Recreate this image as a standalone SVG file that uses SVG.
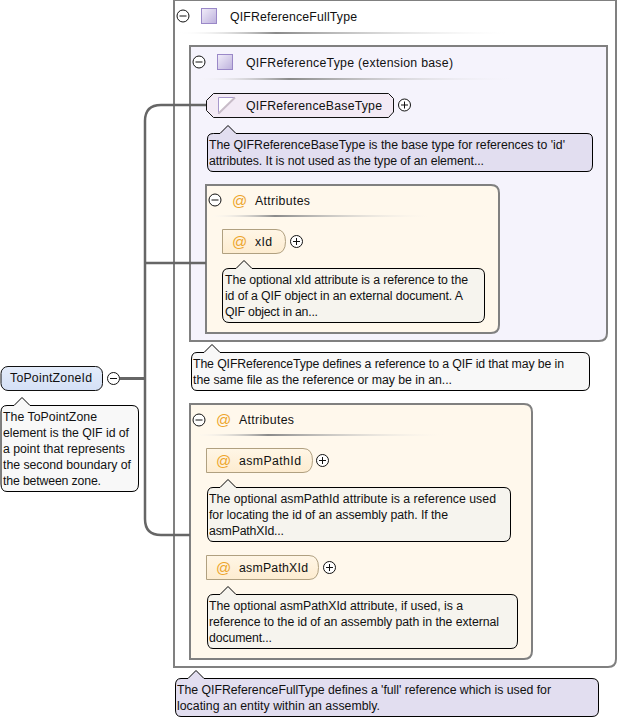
<svg xmlns="http://www.w3.org/2000/svg" width="618" height="720" viewBox="0 0 618 720">
<style>
text{font-family:"Liberation Sans",Arial,sans-serif;font-size:12.3px;fill:#111}
.box{stroke:#808080;stroke-width:2}
.note{stroke:#000;stroke-width:1}
.nl{fill:#e2def0}.ng{fill:#f6f4ee}.nw{fill:#f8f8f8}
.at{font-size:15px;fill:#eda52c}
.btn{fill:#fff;stroke:#111;stroke-width:1}
.pm{stroke:#111;stroke-width:1;fill:none}
.attr{fill:url(#attrFill);stroke:#b0a080;stroke-width:1}
.con{fill:none;stroke:#666;stroke-width:2.500}
.stub{stroke-width:3}
</style>
<defs>
<linearGradient id="sq" x1="0" y1="0" x2="1" y2="1"><stop offset="0" stop-color="#f2eefa"/><stop offset="1" stop-color="#bcb0dc"/></linearGradient>
<linearGradient id="rule"><stop offset="0" stop-color="#fff" stop-opacity="0"/><stop offset=".3" stop-color="#8a8a8a"/><stop offset="1" stop-color="#eee" stop-opacity="0"/></linearGradient>
<linearGradient id="attrFill" x1="0" y1="0" x2="0" y2="1"><stop offset="0" stop-color="#fff6e6"/><stop offset="1" stop-color="#fdecd0"/></linearGradient>
<linearGradient id="elFill" x1="0" y1="0" x2="0" y2="1"><stop offset="0" stop-color="#e4ecfa"/><stop offset="1" stop-color="#d4e0f6"/></linearGradient>
<g id="minus"><circle r="6" class="btn"/><path d="M-3.500 0H3.500" class="pm"/></g>
<g id="plus"><circle r="6" class="btn"/><path d="M-3.500 0H3.500M0-3.500V3.500" class="pm"/></g>
</defs>
<g id="full-type">
<path class="box" d="M174 0V667H608Q616 667 616 659V0Z" fill="#fff"/>
<use href="#minus" x="183" y="16"/>
<rect x="201.500" y="8.500" width="15" height="15" fill="url(#sq)" stroke="#9a88c8"/>
<text x="230" y="21" textLength="127">QIFReferenceFullType</text>
<rect x="177" y="32" width="330" height="2" fill="url(#rule)"/>
</g>
<g id="reference-type">
<path class="box" d="M190 46H607V333Q607 341 599 341H190Z" fill="#f5f3fc"/>
<use href="#minus" x="199" y="62"/>
<rect x="217.500" y="54.500" width="15" height="15" fill="url(#sq)" stroke="#9a88c8"/>
<text x="246" y="67" textLength="207">QIFReferenceType (extension base)</text>
<rect x="193" y="78" width="320" height="2" fill="url(#rule)"/>
</g>
<g id="attrs-1">
<path class="box" d="M206 185H491Q499 185 499 193V325Q499 333 491 333H206Z" fill="#fff8ec"/>
<use href="#minus" x="215" y="200"/>
<text x="232" y="206" class="at">@</text>
<text x="255" y="205" textLength="55">Attributes</text>
<rect x="209" y="215" width="220" height="2" fill="url(#rule)"/>
</g>
<g id="attrs-2">
<path class="box" d="M190 404H524Q532 404 532 412V651Q532 659 524 659H190Z" fill="#fff8ec"/>
<use href="#minus" x="199" y="420"/>
<text x="216" y="425" class="at">@</text>
<text x="239" y="424" textLength="55">Attributes</text>
<rect x="193" y="434" width="250" height="2" fill="url(#rule)"/>
</g>
<g id="connectors">
<path class="con stub" d="M120 378.500H145"/>
<path class="con" d="M206 105H161Q145 105 145 121V519Q145 535 161 535H190"/>
<path class="con" d="M145 263H206"/>
</g>
<g id="base-type">
<path d="M213.500 93.500H388.500L393.500 98.500V112L388.500 117.500H213.500L206.500 110.500V100.500Z" fill="#f3eaf5" stroke="#111"/>
<path d="M218.500 97.500H235L218.500 113.500Z" fill="#fff" stroke="#a898cc"/>
<path d="M218.500 113.500L235 97.500" stroke="#c8bcc8" stroke-width="2"/>
<text x="246" y="110" textLength="136">QIFReferenceBaseType</text>
<use href="#plus" x="404.500" y="105"/>
<path class="note nl" d="M213.500 133.500H220L228 125.500L236 133.500H587Q592.500 133.500 592.500 139V165Q592.500 171.500 587 171.500H213Q207.500 171.500 207.500 165V139Q207.500 133.500 213.500 133.500Z"/>
<text x="209" y="149" textLength="356">The QIFReferenceBaseType is the base type for references to 'id'</text>
<text x="209" y="165" textLength="275">attributes. It is not used as the type of an element...</text>
</g>
<g id="xid">
<path class="attr" d="M222.500 229.500H276Q285.500 229.500 285.500 241.500Q285.500 253.500 276 253.500H222.500Z"/>
<text x="232" y="247" class="at">@</text>
<text x="255" y="246" textLength="17">xId</text>
<use href="#plus" x="296.500" y="241.500"/>
<path class="note ng" d="M229 268.500H236L244 260.500L252 268.500H478Q484.500 268.500 484.500 275V315Q484.500 322.500 478 322.500H229Q222.500 322.500 222.500 315V275Q222.500 268.500 229 268.500Z"/>
<text x="225" y="284" textLength="243">The optional xId attribute is a reference to the</text>
<text x="225" y="300" textLength="238">id of a QIF object in an external document. A</text>
<text x="225" y="316" textLength="93">QIF object in an...</text>
</g>
<g id="reference-type-note">
<path class="note nw" d="M197 352.500H204L212 344.500L220 352.500H583Q589.500 352.500 589.500 359V384Q589.500 390.500 583 390.500H197Q191.500 390.500 191.500 384V359Q191.500 352.500 197 352.500Z"/>
<text x="193" y="368" textLength="371">The QIFReferenceType defines a reference to a QIF id that may be in</text>
<text x="193" y="384" textLength="259">the same file as the reference or may be in an...</text>
</g>
<g id="to-point-zone-id">
<rect x="1" y="366.500" width="101.500" height="24" rx="7" fill="url(#elFill)" stroke="#111"/>
<text x="10" y="382" textLength="82">ToPointZoneId</text>
<use href="#minus" x="113.500" y="378.500"/>
<path class="note nw" d="M7 405.500H14L22 397.500L30 405.500H132Q138.500 405.500 138.500 412V484Q138.500 491.500 132 491.500H7Q1 491.500 1 484V412Q1 405.500 7 405.500Z"/>
<text x="3" y="421" textLength="94">The ToPointZone</text>
<text x="3" y="437" textLength="126">element is the QIF id of</text>
<text x="3" y="453" textLength="122">a point that represents</text>
<text x="3" y="469" textLength="128">the second boundary of</text>
<text x="3" y="485" textLength="98">the between zone.</text>
</g>
<g id="asm-path-id">
<path class="attr" d="M206.500 448.500H303Q312.500 448.500 312.500 460.500Q312.500 472.500 303 472.500H206.500Z"/>
<text x="216" y="466" class="at">@</text>
<text x="239" y="465" textLength="62">asmPathId</text>
<use href="#plus" x="322.500" y="460.500"/>
<path class="note ng" d="M213 487.500H220L228 479.500L236 487.500H504Q510.500 487.500 510.500 494V534Q510.500 541.500 504 541.500H213Q207.500 541.500 207.500 534V494Q207.500 487.500 213 487.500Z"/>
<text x="209" y="503" textLength="287">The optional asmPathId attribute is a reference used</text>
<text x="209" y="519" textLength="239">for locating the id of an assembly path. If the</text>
<text x="209" y="535" textLength="75">asmPathXId...</text>
</g>
<g id="asm-path-xid">
<path class="attr" d="M206.500 555.500H309Q318.500 555.500 318.500 567.500Q318.500 579.500 309 579.500H206.500Z"/>
<text x="216" y="573" class="at">@</text>
<text x="239" y="572" textLength="69">asmPathXId</text>
<use href="#plus" x="329.500" y="567.500"/>
<path class="note ng" d="M213 594.500H220L228 586.500L236 594.500H511Q517.500 594.500 517.500 601V641Q517.500 648.500 511 648.500H213Q207.500 648.500 207.500 641V601Q207.500 594.500 213 594.500Z"/>
<text x="209" y="610" textLength="254">The optional asmPathXId attribute, if used, is a</text>
<text x="209" y="626" textLength="290">reference to the id of an assembly path in the external</text>
<text x="209" y="642" textLength="63">document...</text>
</g>
<g id="full-type-note">
<path class="note nl" d="M181 678.500H188L196 670.500L204 678.500H592Q598.500 678.500 598.500 685V710Q598.500 716.500 592 716.500H181Q175.500 716.500 175.500 710V685Q175.500 678.500 181 678.500Z"/>
<text x="177" y="694" textLength="374">The QIFReferenceFullType defines a 'full' reference which is used for</text>
<text x="177" y="710" textLength="203">locating an entity within an assembly.</text>
</g>
</svg>
